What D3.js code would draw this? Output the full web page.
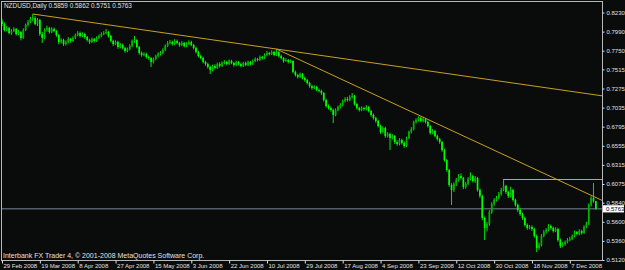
<!DOCTYPE html>
<html>
<head>
<meta charset="utf-8">
<script src="https://cdn.jsdelivr.net/npm/d3@7"></script>
<style>
  html, body { margin: 0; padding: 0; background: #0a0c0c; }
  svg { display: block; }
  text { font-family: "Liberation Sans", Arial, sans-serif; }
</style>
</head>
<body>
<div id="chart"></div>
<script>
// NZDUSD daily bars, 29 Feb 2008 .. mid Dec 2008
const open = [
  0.8120,0.8085,0.8010,0.8035,0.7972,0.7997,0.8023,0.7960,0.7985,0.7910,
  0.8010,0.8073,0.8111,0.8148,0.8161,0.8085,0.8136,0.7960,0.7910,0.8010,
  0.8035,0.7985,0.8023,0.7997,0.7947,0.7859,0.7884,0.7834,0.7859,0.7897,
  0.7872,0.7910,0.7947,0.7972,0.7935,0.7960,0.7922,0.7884,0.7859,0.7897,
  0.7872,0.7910,0.7935,0.7960,0.7972,0.7985,0.7935,0.7872,0.7834,0.7859,
  0.7796,0.7822,0.7784,0.7746,0.7771,0.7809,0.7872,0.7884,0.7796,0.7721,
  0.7696,0.7708,0.7671,0.7658,0.7608,0.7646,0.7683,0.7708,0.7721,0.7759,
  0.7809,0.7847,0.7859,0.7834,0.7872,0.7847,0.7822,0.7847,0.7809,0.7834,
  0.7859,0.7822,0.7784,0.7734,0.7683,0.7658,0.7608,0.7583,0.7545,0.7507,
  0.7558,0.7533,0.7583,0.7558,0.7595,0.7608,0.7583,0.7620,0.7595,0.7570,
  0.7608,0.7583,0.7558,0.7595,0.7570,0.7608,0.7583,0.7620,0.7646,0.7633,
  0.7671,0.7658,0.7696,0.7721,0.7708,0.7734,0.7696,0.7734,0.7683,0.7658,
  0.7620,0.7633,0.7608,0.7620,0.7482,0.7445,0.7419,0.7457,0.7407,0.7382,
  0.7344,0.7306,0.7281,0.7294,0.7256,0.7244,0.7218,0.7130,0.7055,0.7030,
  0.7005,0.6942,0.7005,0.7042,0.7068,0.7118,0.7143,0.7130,0.7168,0.7181,
  0.7080,0.7030,0.7005,0.7030,0.7017,0.7042,0.6992,0.6942,0.6904,0.6867,
  0.6804,0.6728,0.6779,0.6678,0.6703,0.6653,0.6678,0.6603,0.6578,0.6628,
  0.6590,0.6552,0.6653,0.6728,0.6766,0.6854,0.6879,0.6904,0.6867,0.6892,
  0.6854,0.6804,0.6716,0.6741,0.6678,0.6640,0.6603,0.6502,0.6376,0.6251,
  0.6062,0.6000,0.6075,0.6125,0.6175,0.6150,0.6037,0.6075,0.6138,0.6175,
  0.6113,0.6150,0.6000,0.5924,0.5648,0.5522,0.5572,0.5723,0.5824,0.5874,
  0.5899,0.5949,0.6000,0.6050,0.5974,0.5924,0.6000,0.5874,0.5811,0.5748,
  0.5698,0.5648,0.5560,0.5522,0.5535,0.5509,0.5421,0.5271,0.5308,0.5421,
  0.5472,0.5497,0.5547,0.5522,0.5484,0.5509,0.5371,0.5296,0.5321,0.5346,
  0.5371,0.5384,0.5421,0.5472,0.5447,0.5484,0.5459,0.5535,0.5572,0.5811,
  0.5899,0.5859
];
const high = [
  0.8150,0.8105,0.8060,0.8050,0.8020,0.8045,0.8035,0.8010,0.7995,0.8030,
  0.8090,0.8135,0.8175,0.8211,0.8185,0.8160,0.8150,0.7985,0.8030,0.8065,
  0.8050,0.8045,0.8040,0.8010,0.7960,0.7905,0.7900,0.7880,0.7920,0.7910,
  0.7930,0.7965,0.7995,0.7990,0.7980,0.7975,0.7935,0.7900,0.7915,0.7910,
  0.7930,0.7955,0.7980,0.7995,0.8023,0.8000,0.7950,0.7890,0.7880,0.7875,
  0.7845,0.7840,0.7800,0.7790,0.7830,0.7890,0.7935,0.7895,0.7810,0.7740,
  0.7730,0.7725,0.7690,0.7670,0.7665,0.7700,0.7730,0.7745,0.7780,0.7830,
  0.7870,0.7885,0.7875,0.7895,0.7890,0.7860,0.7870,0.7860,0.7855,0.7880,
  0.7875,0.7835,0.7800,0.7750,0.7700,0.7675,0.7625,0.7600,0.7560,0.7575,
  0.7580,0.7600,0.7605,0.7615,0.7630,0.7625,0.7640,0.7635,0.7610,0.7625,
  0.7620,0.7600,0.7610,0.7615,0.7625,0.7620,0.7640,0.7665,0.7660,0.7690,
  0.7685,0.7715,0.7745,0.7735,0.7755,0.7750,0.7771,0.7745,0.7700,0.7670,
  0.7655,0.7645,0.7640,0.7630,0.7500,0.7460,0.7475,0.7470,0.7425,0.7395,
  0.7360,0.7320,0.7315,0.7310,0.7275,0.7260,0.7230,0.7145,0.7075,0.7050,
  0.7020,0.7025,0.7060,0.7090,0.7135,0.7165,0.7170,0.7190,0.7218,0.7195,
  0.7095,0.7045,0.7050,0.7045,0.7065,0.7055,0.7005,0.6960,0.6920,0.6880,
  0.6820,0.6800,0.6795,0.6725,0.6720,0.6700,0.6690,0.6625,0.6650,0.6645,
  0.6610,0.6670,0.6745,0.6790,0.6870,0.6900,0.6925,0.6920,0.6917,0.6905,
  0.6870,0.6815,0.6765,0.6755,0.6695,0.6655,0.6615,0.6520,0.6390,0.6265,
  0.6085,0.6095,0.6150,0.6200,0.6210,0.6165,0.6100,0.6160,0.6220,0.6190,
  0.6175,0.6165,0.6020,0.5940,0.5665,0.5600,0.5745,0.5845,0.5895,0.5925,
  0.5975,0.6025,0.6138,0.6065,0.5990,0.6040,0.6015,0.5890,0.5830,0.5770,
  0.5715,0.5665,0.5580,0.5560,0.5555,0.5525,0.5440,0.5340,0.5445,0.5495,
  0.5520,0.5570,0.5565,0.5540,0.5530,0.5525,0.5390,0.5345,0.5365,0.5395,
  0.5410,0.5440,0.5490,0.5485,0.5505,0.5500,0.5555,0.5600,0.5830,0.5920,
  0.6087,0.5862
];
const low = [
  0.8060,0.7990,0.7995,0.7955,0.7950,0.7985,0.7940,0.7945,0.7880,0.7900,
  0.7995,0.8055,0.8095,0.8120,0.8070,0.8060,0.7935,0.7847,0.7895,0.7990,
  0.7965,0.7970,0.7980,0.7925,0.7830,0.7840,0.7810,0.7815,0.7845,0.7850,
  0.7860,0.7895,0.7930,0.7915,0.7920,0.7900,0.7865,0.7835,0.7845,0.7855,
  0.7860,0.7895,0.7920,0.7945,0.7955,0.7915,0.7855,0.7810,0.7820,0.7775,
  0.7780,0.7765,0.7725,0.7730,0.7755,0.7795,0.7850,0.7780,0.7700,0.7675,
  0.7680,0.7650,0.7635,0.7545,0.7590,0.7630,0.7665,0.7690,0.7705,0.7745,
  0.7795,0.7830,0.7815,0.7820,0.7830,0.7800,0.7805,0.7790,0.7795,0.7820,
  0.7805,0.7765,0.7715,0.7665,0.7640,0.7590,0.7560,0.7525,0.7457,0.7490,
  0.7515,0.7520,0.7540,0.7545,0.7580,0.7565,0.7570,0.7580,0.7550,0.7555,
  0.7565,0.7540,0.7545,0.7555,0.7555,0.7565,0.7570,0.7605,0.7615,0.7620,
  0.7640,0.7645,0.7680,0.7690,0.7695,0.7680,0.7685,0.7665,0.7640,0.7600,
  0.7610,0.7590,0.7595,0.7465,0.7425,0.7400,0.7405,0.7390,0.7360,0.7325,
  0.7285,0.7260,0.7265,0.7240,0.7225,0.7195,0.7110,0.7035,0.7010,0.6985,
  0.6841,0.6925,0.6990,0.7025,0.7050,0.7100,0.7110,0.7115,0.7150,0.7060,
  0.7010,0.6985,0.6990,0.6995,0.7000,0.6975,0.6920,0.6885,0.6845,0.6785,
  0.6705,0.6710,0.6655,0.6660,0.6502,0.6635,0.6580,0.6555,0.6560,0.6570,
  0.6530,0.6540,0.6640,0.6710,0.6750,0.6835,0.6860,0.6850,0.6850,0.6835,
  0.6785,0.6695,0.6700,0.6660,0.6620,0.6580,0.6480,0.6355,0.6230,0.6040,
  0.5811,0.5975,0.6050,0.6105,0.6130,0.6010,0.6015,0.6060,0.6120,0.6095,
  0.6090,0.5980,0.5900,0.5620,0.5371,0.5480,0.5550,0.5700,0.5800,0.5855,
  0.5880,0.5930,0.5985,0.5950,0.5900,0.5905,0.5855,0.5790,0.5725,0.5675,
  0.5625,0.5540,0.5500,0.5505,0.5485,0.5400,0.5220,0.5250,0.5290,0.5405,
  0.5450,0.5480,0.5500,0.5465,0.5470,0.5350,0.5270,0.5280,0.5300,0.5330,
  0.5355,0.5370,0.5405,0.5430,0.5430,0.5440,0.5445,0.5520,0.5560,0.5790,
  0.5840,0.5751
];
const close = [
  0.8085,0.8010,0.8035,0.7972,0.7997,0.8023,0.7960,0.7985,0.7910,0.8010,
  0.8073,0.8111,0.8148,0.8161,0.8085,0.8136,0.7960,0.7910,0.8010,0.8035,
  0.7985,0.8023,0.7997,0.7947,0.7859,0.7884,0.7834,0.7859,0.7897,0.7872,
  0.7910,0.7947,0.7972,0.7935,0.7960,0.7922,0.7884,0.7859,0.7897,0.7872,
  0.7910,0.7935,0.7960,0.7972,0.7985,0.7935,0.7872,0.7834,0.7859,0.7796,
  0.7822,0.7784,0.7746,0.7771,0.7809,0.7872,0.7884,0.7796,0.7721,0.7696,
  0.7708,0.7671,0.7658,0.7608,0.7646,0.7683,0.7708,0.7721,0.7759,0.7809,
  0.7847,0.7859,0.7834,0.7872,0.7847,0.7822,0.7847,0.7809,0.7834,0.7859,
  0.7822,0.7784,0.7734,0.7683,0.7658,0.7608,0.7583,0.7545,0.7507,0.7558,
  0.7533,0.7583,0.7558,0.7595,0.7608,0.7583,0.7620,0.7595,0.7570,0.7608,
  0.7583,0.7558,0.7595,0.7570,0.7608,0.7583,0.7620,0.7646,0.7633,0.7671,
  0.7658,0.7696,0.7721,0.7708,0.7734,0.7696,0.7734,0.7683,0.7658,0.7620,
  0.7633,0.7608,0.7620,0.7482,0.7445,0.7419,0.7457,0.7407,0.7382,0.7344,
  0.7306,0.7281,0.7294,0.7256,0.7244,0.7218,0.7130,0.7055,0.7030,0.7005,
  0.6942,0.7005,0.7042,0.7068,0.7118,0.7143,0.7130,0.7168,0.7181,0.7080,
  0.7030,0.7005,0.7030,0.7017,0.7042,0.6992,0.6942,0.6904,0.6867,0.6804,
  0.6728,0.6779,0.6678,0.6703,0.6653,0.6678,0.6603,0.6578,0.6628,0.6590,
  0.6552,0.6653,0.6728,0.6766,0.6854,0.6879,0.6904,0.6867,0.6892,0.6854,
  0.6804,0.6716,0.6741,0.6678,0.6640,0.6603,0.6502,0.6376,0.6251,0.6062,
  0.6000,0.6075,0.6125,0.6175,0.6150,0.6037,0.6075,0.6138,0.6175,0.6113,
  0.6150,0.6000,0.5924,0.5648,0.5522,0.5572,0.5723,0.5824,0.5874,0.5899,
  0.5949,0.6000,0.6050,0.5974,0.5924,0.6000,0.5874,0.5811,0.5748,0.5698,
  0.5648,0.5560,0.5522,0.5535,0.5509,0.5421,0.5271,0.5308,0.5421,0.5472,
  0.5497,0.5547,0.5522,0.5484,0.5509,0.5371,0.5296,0.5321,0.5346,0.5371,
  0.5384,0.5421,0.5472,0.5447,0.5484,0.5459,0.5535,0.5572,0.5811,0.5899,
  0.5859,0.5763
];

const dateLabels = ["29 Feb 2008", "19 Mar 2008", "8 Apr 2008", "27 Apr 2008", "15 May 2008",
  "3 Jun 2008", "22 Jun 2008", "10 Jul 2008", "29 Jul 2008", "17 Aug 2008", "4 Sep 2008",
  "23 Sep 2008", "12 Oct 2008", "30 Oct 2008", "18 Nov 2008", "7 Dec 2008"];
const dateTickBars = [0, 16, 32, 48, 64, 80, 96, 112, 128, 144, 160, 176, 192, 208, 224, 240];
const priceTicks = [0.8230, 0.7990, 0.7750, 0.7515, 0.7275, 0.7035, 0.6795, 0.6555,
  0.6315, 0.6075, 0.5840, 0.5600, 0.5360, 0.5120];

// drawn objects: [bar, price] anchors
const trendA = [[13, 0.8211], [116, 0.7771]];
const trendB = [[116, 0.7771], [234, 0.6140]];
const levelLine = [212, 0.6138];

const W = 625, H = 270;
const plot = {left: 2, right: 602, top: 2, bottom: 260};

const svg = d3.select("#chart").append("svg")
    .attr("width", W)
    .attr("height", H);

svg.append("rect").attr("width", W).attr("height", H).attr("fill", "#0a0c0c");

const x = d3.scaleLinear()
    .domain([0, 253.6])
    .range([plot.left, plot.right]);

const y = d3.scaleLinear()
    .domain([0.5120, 0.8230])
    .range([260, 12.5]);

svg.append("clipPath").attr("id", "clip")
  .append("rect")
    .attr("x", plot.left).attr("y", plot.top)
    .attr("width", plot.right - plot.left).attr("height", plot.bottom - plot.top);

const area = svg.append("g").attr("clip-path", "url(#clip)");

// bid line
area.append("line")
    .attr("x1", plot.left).attr("x2", plot.right)
    .attr("y1", y(close[close.length - 1])).attr("y2", y(close[close.length - 1]))
    .attr("stroke", "#778899")
    .attr("stroke-width", 1);

// candles
const bars = d3.range(close.length);
const bodyW = 1.7;

area.append("g").selectAll("line")
  .data(bars)
  .join("line")
    .attr("x1", i => x(i)).attr("x2", i => x(i))
    .attr("y1", i => y(high[i])).attr("y2", i => y(low[i]))
    .attr("stroke", "#00ff00")
    .attr("stroke-width", 0.9);

area.append("g").selectAll("rect")
  .data(bars)
  .join("rect")
    .attr("x", i => x(i) - bodyW / 2)
    .attr("width", bodyW)
    .attr("y", i => y(Math.max(open[i], close[i])))
    .attr("height", i => Math.max(0.8, Math.abs(y(open[i]) - y(close[i]))))
    .attr("fill", i => close[i] >= open[i] ? "#00b400" : "#00ff00");

// trend lines, extended to the right edge
const iEnd = x.invert(plot.right);
function extend(pts) {
  const [[i1, p1], [i2, p2]] = pts;
  return [[i1, p1], [iEnd, p1 + (p2 - p1) * (iEnd - i1) / (i2 - i1)]];
}
[trendA, trendB].forEach(t => {
  const seg = extend(t);
  area.append("line")
      .attr("x1", x(seg[0][0])).attr("y1", y(seg[0][1]))
      .attr("x2", x(seg[1][0])).attr("y2", y(seg[1][1]))
      .attr("stroke", "#c8a020")
      .attr("stroke-width", 1);
});

area.append("line")
    .attr("x1", x(levelLine[0])).attr("x2", plot.right)
    .attr("y1", Math.round(y(levelLine[1])) + 0.5).attr("y2", Math.round(y(levelLine[1])) + 0.5)
    .attr("stroke", "#d4aa20")
    .attr("stroke-width", 1);

// frame
svg.append("rect")
    .attr("x", 1.5).attr("y", 1.5)
    .attr("width", 601).attr("height", 259)
    .attr("fill", "none")
    .attr("stroke", "#b8b8b8")
    .attr("stroke-width", 1);

// price axis
const yAxis = svg.append("g")
    .attr("transform", "translate(602.5,0)")
    .attr("color", "#e0e0e0")
    .call(d3.axisRight(y).tickValues(priceTicks).tickSize(2).tickPadding(2)
      .tickFormat(d3.format(".4f")));
yAxis.select(".domain").remove();
yAxis.selectAll("text").style("font-size", "6px").attr("font-family", null);

// current price label
const last = close[close.length - 1];
svg.append("rect")
    .attr("x", 603).attr("y", y(last) - 3.6)
    .attr("width", 21).attr("height", 7.2)
    .attr("fill", "#ffffff");
svg.append("text")
    .attr("x", 606).attr("y", y(last) + 2.1)
    .style("font-size", "6px")
    .attr("fill", "#000")
    .text(d3.format(".4f")(last));

// date axis
const xAxis = svg.append("g")
    .attr("transform", "translate(0,260.5)")
    .attr("color", "#e0e0e0")
    .call(d3.axisBottom(x).tickValues(dateTickBars).tickSize(3).tickPadding(0)
      .tickFormat((d, i) => dateLabels[i]));
xAxis.select(".domain").remove();
xAxis.selectAll("text")
    .attr("text-anchor", "start")
    .attr("x", 1)
    .style("font-size", "6px")
    .attr("font-family", null);

// header and copyright
svg.append("text")
    .attr("x", 4).attr("y", 7.7)
    .attr("fill", "#e0e0e0")
    .style("font-size", "6.4px")
    .text("NZDUSD,Daily  0.5859 0.5862 0.5751 0.5763");

svg.append("text")
    .attr("x", 3).attr("y", 257.6)
    .attr("fill", "#e0e0e0")
    .style("font-size", "7px")
    .text("Interbank FX Trader 4, © 2001-2008 MetaQuotes Software Corp.");
</script>
</body>
</html>
